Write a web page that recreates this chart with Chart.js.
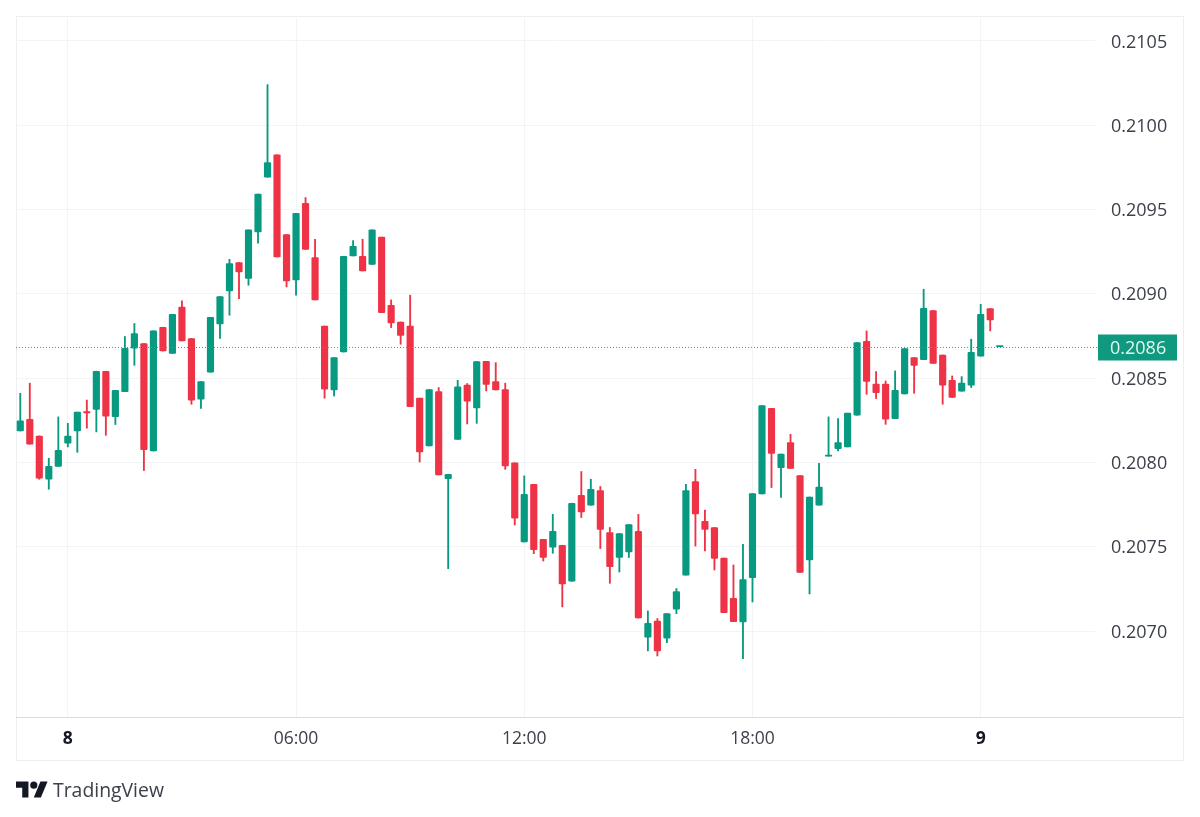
<!DOCTYPE html>
<html>
<head>
<meta charset="utf-8">
<style>
  html, body { margin: 0; padding: 0; background: #fff; }
  #wrap { position: relative; width: 1200px; height: 817px; overflow: hidden; }
  #logo { position: absolute; left: 16px; top: 778px; }
  #brand { position: absolute; left: 53px; top: 776px; font: 19.4px "Open Sans", sans-serif; color: #3c404b; }
</style>
<script src="https://cdn.jsdelivr.net/npm/chart.js@4/dist/chart.umd.min.js"></script>
</head>
<body>
<div id="wrap">
  <canvas id="chart" width="1200" height="817"></canvas>
  <svg id="logo" width="32" height="25" viewBox="0 0 36 28"><path fill="#131722" d="M14 22H7V11H0V4h14v18zM28 22h-8l7.5-18h8L28 22z"/><circle fill="#131722" cx="20" cy="8" r="4"/></svg>
  <div id="brand">TradingView</div>
</div>
<script>
// 15 min candles
const open = [.208187,.208256,.208157,.207900,.207977,.208114,.208187,.208302,.208315,.208541,
  .208272,.208420,.208677,.208705,.208068,.208802,.208647,.208922,.208735,.208375,
  .208535,.208821,.209017,.209186,.209091,.209367,.209692,.209824,.209352,.209082,
  .209537,.209215,.208809,.208430,.208655,.209225,.209223,.209174,.209336,.208932,
  .208833,.208809,.208381,.208098,.208420,.207904,.208137,.208459,.208323,.208600,
  .208480,.208432,.207997,.207528,.207870,.207544,.207497,.207509,.207295,.207805,
  .207746,.207833,.207584,.207436,.207469,.207592,.206963,.207059,.206957,.207129,
  .207332,.207886,.207651,.207614,.207433,.207194,.207054,.207317,.207813,.208321,
  .207969,.208118,.207922,.207421,.207746,.208037,.208082,.208092,.208280,.208719,
  .208464,.208465,.208260,.208406,.208622,.208610,.208901,.208637,.208487,.208422,
  .208458,.208631,.208913,.208687];
const close = [.208246,.208108,.207906,.207977,.208072,.208157,.208298,.208293,.208541,.208274,
  .208428,.208677,.208764,.208076,.208780,.208661,.208879,.208720,.208370,.208480,
  .208861,.208984,.209180,.209130,.209379,.209591,.209779,.209219,.209076,.209478,
  .209264,.208964,.208434,.208622,.209223,.209282,.209136,.209379,.208889,.208827,
  .208754,.208331,.208062,.208432,.207926,.207930,.208448,.208363,.208598,.208462,
  .208430,.207979,.207669,.207811,.207483,.207436,.207592,.207279,.207758,.207706,
  .207841,.207603,.207382,.207578,.207631,.207077,.207046,.206882,.207103,.207234,
  .207833,.207694,.207603,.207430,.207109,.207056,.207305,.207815,.208337,.208054,
  .208050,.207964,.207348,.207795,.207854,.208042,.208118,.208292,.208711,.208481,
  .208414,.208256,.208428,.208675,.208576,.208914,.208588,.208458,.208385,.208470,
  .208653,.208879,.208845,.208687];
const high = [.208410,.208470,.208157,.208025,.208270,.208232,.208298,.208370,.208541,.208541,
  .208428,.208747,.208824,.208705,.208780,.208802,.208879,.208958,.208735,.208480,
  .208861,.208984,.209205,.209186,.209379,.209591,.210241,.209824,.209352,.209478,
  .209571,.209324,.208809,.208622,.209223,.209316,.209324,.209379,.209336,.208964,
  .208833,.208992,.208381,.208432,.208444,.207930,.208487,.208468,.208598,.208600,
  .208592,.208470,.207997,.207920,.207870,.207544,.207692,.207509,.207758,.207946,
  .207900,.207857,.207614,.207578,.207631,.207692,.207119,.207074,.207103,.207252,
  .207870,.207959,.207718,.207614,.207433,.207392,.207514,.207815,.208337,.208321,
  .208050,.208167,.207922,.207795,.207995,.208270,.208260,.208292,.208711,.208780,
  .208539,.208483,.208543,.208675,.208622,.209027,.208901,.208637,.208513,.208509,
  .208731,.208938,.208913,.208687];
const low = [.208187,.208108,.207900,.207841,.207977,.208092,.208060,.208203,.208181,.208161,
  .208225,.208420,.208576,.207952,.208068,.208661,.208647,.208720,.208345,.208321,
  .208535,.208735,.208873,.208972,.209051,.209300,.209692,.209219,.209041,.208992,
  .209264,.208964,.208381,.208394,.208655,.209225,.209136,.209174,.208889,.208800,
  .208701,.208331,.208003,.208098,.207926,.207370,.208137,.208228,.208232,.208424,
  .208430,.207959,.207629,.207528,.207459,.207415,.207461,.207143,.207295,.207673,
  .207746,.207489,.207283,.207350,.207436,.207077,.206882,.206852,.206931,.207103,
  .207332,.207504,.207475,.207362,.207109,.207056,.206836,.207172,.207813,.207851,
  .207792,.207964,.207348,.207220,.207746,.208037,.208068,.208092,.208280,.208404,
  .208379,.208226,.208260,.208406,.208410,.208610,.208588,.208345,.208385,.208422,
  .208444,.208631,.208780,.208687];

const yTicks = [.2070, .2075, .2080, .2085, .2090, .2095, .2100, .2105];
const xTickIdx = [5, 29, 53, 77, 101];
const xTickLabels = ['8', '06:00', '12:00', '18:00', '9'];
const lastPrice = .208687;
const lastLabel = '0.2086';

const GREEN = '#089981', RED = '#ef3346';
const tickFont = '"Open Sans", sans-serif';
const colors = open.map((o, i) => close[i] >= o ? GREEN : RED);

// frame, axis line, last price line and its tag
const tvFrame = {
  id: 'tvFrame',
  beforeDraw(chart) {
    const c = chart.ctx;
    c.save();
    c.strokeStyle = '#eceef1';
    c.strokeRect(16.5, 16.5, 1167, 744);
    c.restore();
  },
  afterDraw(chart) {
    const c = chart.ctx, a = chart.chartArea;
    const y = Math.round(chart.scales.y.getPixelForValue(lastPrice)) + 0.5;
    c.save();
    c.strokeStyle = '#d9dce1';
    c.beginPath(); c.moveTo(16, a.bottom + .5); c.lineTo(1183, a.bottom + .5); c.stroke();
    c.strokeStyle = '#2aa88f';
    c.setLineDash([1, 2]);
    c.beginPath(); c.moveTo(16, y); c.lineTo(1098, y); c.stroke();
    c.setLineDash([]);
    c.fillStyle = '#0f9a80';
    c.fillRect(1098, y - 13, 79, 26);
    c.fillStyle = '#e4f7f1';
    c.font = '500 18px ' + tickFont;
    c.textBaseline = 'middle';
    c.fillText(lastLabel, 1110, y + 1);
    c.restore();
  }
};

new Chart(document.getElementById('chart'), {
  type: 'bar',
  data: {
    datasets: [
      {
        label: 'wick',
        data: low.map((l, i) => ({x: i, y: [l, high[i]]})),
        backgroundColor: colors,
        barThickness: 1.2,
        grouped: false,
        order: 2
      },
      {
        label: 'body',
        data: open.map((o, i) => ({x: i, y: [o, close[i]]})),
        backgroundColor: colors,
        barThickness: 6.5,
        minBarLength: 1,
        grouped: false,
        borderRadius: 1,
        borderSkipped: false,
        order: 1
      }
    ]
  },
  plugins: [tvFrame],
  options: {
    responsive: false,
    animation: false,
    events: [],
    layout: { padding: { left: 16, top: 16, right: 17, bottom: 56 } },
    plugins: { legend: { display: false }, tooltip: { enabled: false } },
    scales: {
      x: {
        type: 'linear',
        offset: false,
        min: -0.45,
        max: 113.02,
        afterBuildTicks(axis) { axis.ticks = xTickIdx.map(v => ({value: v})); },
        afterFit(axis) { axis.height = 44; axis.paddingLeft = 0; axis.paddingRight = 0; },
        grid: { color: '#f3f4f6', drawTicks: false, offset: false },
        border: { display: false },
        ticks: {
          autoSkip: false,
          maxRotation: 0,
          padding: 12,
          color: ctx => ctx.index === 0 || ctx.index === 4 ? '#131722' : '#3c404b',
          font: ctx => ({ family: tickFont, size: 17.5, weight: ctx.index === 0 || ctx.index === 4 ? '700' : '400' }),
          callback: (v, i) => xTickLabels[i]
        }
      },
      y: {
        position: 'right',
        min: 0.20649,
        max: 0.210648,
        afterBuildTicks(axis) { axis.ticks = yTicks.map(v => ({value: v})); },
        afterFit(axis) { axis.width = 88; axis.paddingTop = 0; axis.paddingBottom = 0; },
        grid: { color: '#f3f4f6', drawTicks: false },
        border: { display: false },
        ticks: {
          padding: 16,
          labelOffset: 1.5,
          color: '#3c404b',
          font: { family: tickFont, size: 18 },
          callback: v => v.toFixed(4)
        }
      }
    }
  }
});
</script>
</body>
</html>
